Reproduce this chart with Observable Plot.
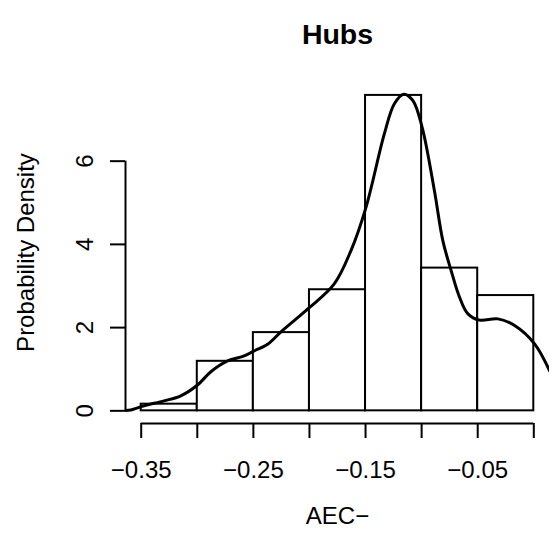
<!DOCTYPE html>
<html>
<head>
<meta charset="utf-8">
<script src="https://cdn.jsdelivr.net/npm/d3@7"></script>
<script src="https://cdn.jsdelivr.net/npm/@observablehq/plot@0.6"></script>
<style>
  html, body { margin: 0; padding: 0; background: #fff; }
  svg { display: block; }
</style>
</head>
<body>
<div id="chart"></div>
<script>
// ---- data ----
const title = "Hubs";
const xLabel = "AEC\u2212";
const yLabel = "Probability Density";
const breaks = [-0.35, -0.30, -0.25, -0.20, -0.15, -0.10, -0.05, 0.00];
const density = [0.16, 1.19, 1.88, 2.91, 7.58, 3.43, 2.77];
const kdeX = [-0.364, -0.3594, -0.3475, -0.3296, -0.3147, -0.2998, -0.2879, -0.273, -0.2582, -0.2493, -0.2373, -0.2254, -0.2136, -0.1996, -0.1779, -0.163, -0.1496, -0.1332, -0.1243, -0.1159, -0.1079, -0.0996, -0.0886, -0.0811, -0.0737, -0.0662, -0.0587, -0.0484, -0.032, -0.0171, 0.0007, 0.0141];
const kdeY = [0.01, 0.02, 0.12, 0.24, 0.36, 0.62, 0.94, 1.20, 1.32, 1.44, 1.60, 1.90, 2.17, 2.49, 3.05, 3.85, 4.89, 6.66, 7.38, 7.61, 7.46, 6.82, 5.29, 4.09, 3.37, 2.73, 2.33, 2.18, 2.21, 2.05, 1.61, 0.96];
const yTicks = [0, 2, 4, 6];
const xLabelEvery = 2;

// ---- derived tables ----
const bins = density.map((d, i) => ({x1: breaks[i], x2: breaks[i + 1], y: d}));
const curve = kdeX.map((x, i) => ({x, y: kdeY[i]}));
const xMin = breaks[0], xMax = breaks[breaks.length - 1];
const xPad = (xMax - xMin) * 0.04;
const yMax = Math.max(d3.max(density), d3.max(kdeY));
const yPad = yMax * 0.04;
const xDomain = [xMin - xPad, xMax + xPad];
const yDomain = [-yPad, yMax + yPad];
const fmt = d => (d < 0 ? "\u2212" : "") + Math.abs(d).toFixed(2);

const font = "'Liberation Sans', Arial, Helvetica, sans-serif";

const chart = Plot.plot({
  width: 556,
  height: 541,
  marginLeft: 125,
  marginRight: 7,
  marginTop: 81,
  marginBottom: 118,
  style: {fontFamily: font, fontSize: "24px", color: "#000", background: "#fff"},
  x: {domain: xDomain},
  y: {domain: yDomain},
  marks: [
    Plot.rectY(bins, {x1: "x1", x2: "x2", y: "y", fill: "white", stroke: "black", strokeWidth: 2, inset: 0}),
    Plot.line(curve, {x: "x", y: "y", stroke: "black", strokeWidth: 3, curve: "catmull-rom", clip: true}),
    // axis lines (R style, spanning tick range)
    Plot.ruleY([{x1: xMin, x2: xMax, y: yDomain[0]}], {x1: "x1", x2: "x2", y: "y", stroke: "black", strokeWidth: 2}),
    Plot.ruleX([{x: xDomain[0], y1: yTicks[0], y2: yTicks[yTicks.length - 1]}], {x: "x", y1: "y1", y2: "y2", stroke: "black", strokeWidth: 2}),
    Plot.axisX({ticks: breaks, tickSize: 15, tickPadding: 22, strokeWidth: 2, fontSize: 24,
      tickFormat: (d) => { const i = breaks.indexOf(d); return i % xLabelEvery === 0 ? fmt(d) : ""; }, label: null}),
    Plot.axisY({ticks: yTicks, tickSize: 15, tickPadding: 18, strokeWidth: 2, fontSize: 24, tickRotate: -90,
      tickFormat: d => String(d), label: null}),
    Plot.text([title], {text: d => d, frameAnchor: "top", dy: -58, fontWeight: "bold", fontSize: 28.5}),
    Plot.text([xLabel], {text: d => d, frameAnchor: "bottom", dy: 100, fontSize: 24}),
    Plot.text([yLabel], {text: d => d, frameAnchor: "left", textAnchor: "middle", dx: -99, rotate: -90, fontSize: 24})
  ]
});
document.getElementById("chart").appendChild(chart);
</script>
</body>
</html>
